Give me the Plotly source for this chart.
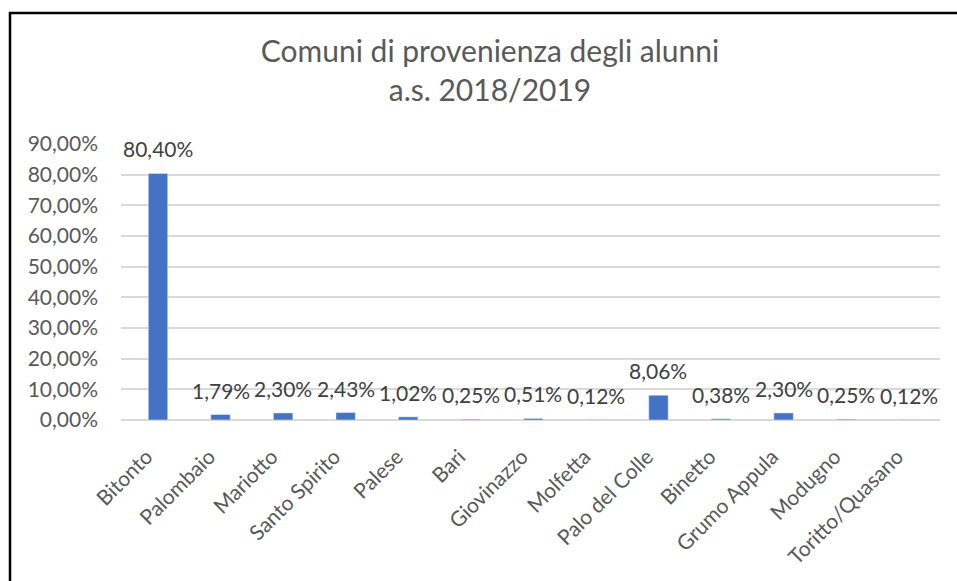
import plotly.graph_objects as go

categories = ["Bitonto", "Palombaio", "Mariotto", "Santo Spirito", "Palese", "Bari",
              "Giovinazzo", "Molfetta", "Palo del Colle", "Binetto", "Grumo Appula",
              "Modugno", "Toritto/Quasano"]
values = [80.40, 1.79, 2.30, 2.43, 1.02, 0.25, 0.51, 0.12, 8.06, 0.38, 2.30, 0.25, 0.12]
y_ticks = [0, 10, 20, 30, 40, 50, 60, 70, 80, 90]
y_tick_labels = [f"{t:.2f}%".replace(".", ",") for t in y_ticks]
x_tick_labels = [c + "\u00a0\u00a0\u00a0" for c in categories]
title_lines = ["Comuni di provenienza degli alunni", "a.s. 2018/2019"]

FONT = "Lato"
W, H = 957, 581
# plot area in window pixels: x 121..940, y 144..420
L, R, T, B = 121, W - 940, 144, H - 420
PW, PH = W - L - R, H - T - B

def px_to_paper_x(px):
    return (px - L) / PW

def px_to_paper_y(py):
    return (H - B - py) / PH

fig = go.Figure()
fig.add_trace(go.Bar(
    x=categories, y=values, marker_color="#4472C4", width=0.31,
    hoverinfo="x+y",
))

for c, v in zip(categories, values):
    fig.add_annotation(
        x=c, y=v, text=f"{v:.2f}%".replace(".", ","), showarrow=False,
        yanchor="bottom", yshift=10, font=dict(family=FONT, size=21, color="#404040"),
    )

border = dict(color="black", width=2.5)
fig.add_shape(type="line", xref="paper", yref="paper",
              x0=px_to_paper_x(10), x1=px_to_paper_x(10),
              y0=px_to_paper_y(H + 10), y1=px_to_paper_y(12), line=border, layer="above")
fig.add_shape(type="line", xref="paper", yref="paper",
              x0=px_to_paper_x(9), x1=px_to_paper_x(W + 10),
              y0=px_to_paper_y(13), y1=px_to_paper_y(13), line=border, layer="above")

fig.update_layout(
    width=W, height=H,
    margin=dict(l=L, r=R, t=T, b=B),
    paper_bgcolor="white", plot_bgcolor="white",
    showlegend=False,
    title=dict(text="<br>".join(title_lines), x=490 / W, xanchor="center",
               y=1 - 62 / H, yanchor="top", yref="container",
               font=dict(family=FONT, size=30, color="#595959")),
    xaxis=dict(tickangle=-45, tickfont=dict(family=FONT, size=21, color="#595959"),
               tickvals=categories, ticktext=x_tick_labels,
               showgrid=False, showline=False, ticks="", ticklabelstandoff=8),
    yaxis=dict(range=[0, 90], tickvals=y_ticks, ticktext=y_tick_labels,
               tickfont=dict(family=FONT, size=21, color="#595959"),
               showgrid=True, gridcolor="#d9d9d9", gridwidth=1.5,
               zeroline=True, zerolinecolor="#d9d9d9", zerolinewidth=1.5,
               showline=False, ticks="", ticklabelstandoff=22),
    bargap=0.69,
)

fig.write_html(
    "out.html",
    config={"displayModeBar": False},
    post_script="document.body.style.margin='0';document.body.style.overflow='hidden';"
                "document.documentElement.style.overflow='hidden';",
)
